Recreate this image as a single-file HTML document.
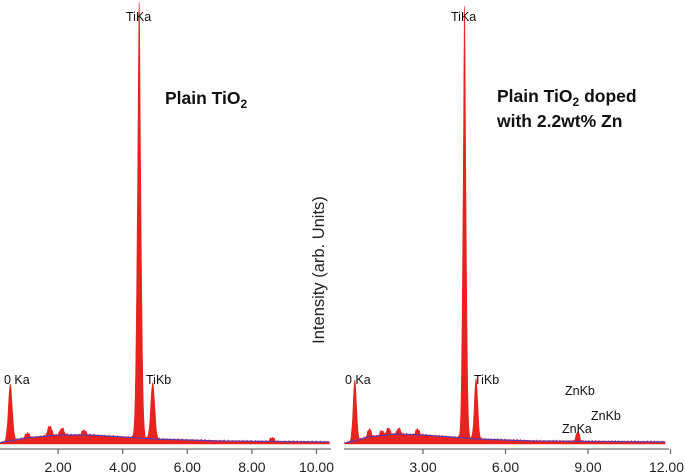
<!DOCTYPE html>
<html><head><meta charset="utf-8"><style>
html,body{margin:0;padding:0;background:#fff;width:685px;height:476px;overflow:hidden}
svg{display:block;font-family:"Liberation Sans",sans-serif}
.ttl{font-weight:bold;font-size:17.5px;fill:#111}
.lbl{font-size:12.5px;fill:#111}
.tk{font-size:14px;fill:#222;text-anchor:middle}
</style></head><body>
<svg id="chart" width="685" height="476">
  <g id="left"></g>
  <g id="right"></g>
  <text class="ttl" x="165" y="104">Plain TiO<tspan font-size="12" dy="4">2</tspan></text>
  <text class="ttl" x="497" y="102">Plain TiO<tspan font-size="12" dy="4">2</tspan><tspan dy="-4"> doped</tspan></text>
  <text class="ttl" x="497" y="127">with 2.2wt% Zn</text>
  <text x="324" y="270" transform="rotate(-90 324 270)" text-anchor="middle" font-size="16.5" fill="#222">Intensity (arb. Units)</text>
  <text class="lbl" x="126" y="21">TiKa</text>
  <text class="lbl" x="4" y="384">0 Ka</text>
  <text class="lbl" x="146" y="384">TiKb</text>
  <text class="lbl" x="451" y="21">TiKa</text>
  <text class="lbl" x="345" y="384">0 Ka</text>
  <text class="lbl" x="474" y="384">TiKb</text>
  <text class="lbl" x="565" y="395">ZnKb</text>
  <text class="lbl" x="591" y="420">ZnKb</text>
  <text class="lbl" x="562" y="433">ZnKa</text>
</svg>
<script>
// Left spectrum data (keV, relative intensity)
const leftPeakE = [0.52, 1.05, 1.74, 2.12, 2.8, 4.51, 4.93, 8.63];
const leftPeakH = [56, 5, 10, 7, 5, 436, 56, 4];
const leftBgE = [0, 0.5, 1.0, 2.0, 3.0, 4.0, 5.0, 7.0, 10.5];
const leftBgH = [0, 3, 6, 9, 9, 7, 5, 3, 2];
const leftTicks = [2, 4, 6, 8, 10];
const leftTickLabels = ["2.00", "4.00", "6.00", "8.00", "10.00"];
// Right spectrum data
const rightPeakE = [0.52, 1.05, 1.5, 1.74, 2.12, 2.8, 4.51, 4.93, 8.63];
const rightPeakH = [60, 8, 5, 7, 6, 6, 432, 60, 10];
const rightBgE = [0, 0.5, 1.0, 2.0, 3.0, 4.0, 5.0, 7.0, 12.0];
const rightBgH = [0, 3, 7, 10, 9, 7, 5, 3, 2];
const rightTicks = [3, 6, 9, 12];
const rightTickLabels = ["3.00", "6.00", "9.00", "12.00"];

const NS = "http://www.w3.org/2000/svg";
function mk(tag, attrs, parent){const e=document.createElementNS(NS,tag);for(const k in attrs)e.setAttribute(k,attrs[k]);parent.appendChild(e);return e;}
function interp(xs, ys, x){if(x<=xs[0])return ys[0];for(let i=1;i<xs.length;i++){if(x<=xs[i]){const t=(x-xs[i-1])/(xs[i]-xs[i-1]);return ys[i-1]+t*(ys[i]-ys[i-1]);}}return ys[ys.length-1];}

function panel(g, cfg){
  const xs = e => cfg.x0 + e*cfg.kx;
  const ys = v => cfg.base - v;
  let bg = "";
  let d = "M"+xs(cfg.e0)+","+ys(0);
  for(let e=cfg.e0; e<=cfg.e1; e+=0.01){
    const b = interp(cfg.bgE, cfg.bgH, e);
    let p = 0;
    for(let i=0;i<cfg.pE.length;i++){
      const z=(e-cfg.pE[i])/0.06;
      if(cfg.pH[i]>100){
        const z2=(e-cfg.pE[i])/0.02;
        p += cfg.pH[i]*0.8*Math.exp(-0.5*z*z) + cfg.pH[i]*0.2*Math.exp(-0.5*z2*z2);
      } else p += cfg.pH[i]*Math.exp(-0.5*z*z);
    }
    const n = (Math.sin(e*97)+Math.sin(e*53))*0.6;
    d += " L"+xs(e).toFixed(2)+","+ys(b+p+n).toFixed(2);
    bg += (bg?" L":"M")+xs(e).toFixed(2)+","+ys(b).toFixed(2);
  }
  d += " L"+xs(cfg.e1)+","+ys(0)+" Z";
  const area = mk("path",{d:d,fill:"#e8231f",stroke:"#e8231f","stroke-width":"0.6"},g);
  
  
  const bl = mk("path",{d:bg,fill:"none",stroke:"#5a3ab0","stroke-width":"1.2"},g);
  
  
  const ax = mk("line",{x1:cfg.ax1,x2:cfg.ax2,y1:cfg.axy,y2:cfg.axy,stroke:"#888","stroke-width":"1.6"},g);
  
  
  cfg.ticks.forEach((t,i)=>{
    const tl = mk("line",{x1:xs(t),x2:xs(t),y1:cfg.axy,y2:cfg.axy+5,stroke:"#666","stroke-width":"1.2"},g);
    
    
    const tx0 = xs(t);
    const last = i===cfg.ticks.length-1 && tx0>650;
    const tx = mk("text",{x:last?684:tx0,y:cfg.axy+23,"class":"tk"},g);
    if(last) tx.style.textAnchor = "end";
    tx.textContent = cfg.labels[i];
    
    
  });
}
panel(document.getElementById("left"),{x0:-6.5,kx:32.3,base:444,e0:0.2,e1:10.4,pE:leftPeakE,pH:leftPeakH,bgE:leftBgE,bgH:leftBgH,ticks:leftTicks,labels:leftTickLabels,ax1:0,ax2:331,axy:449});
panel(document.getElementById("right"),{x0:340.5,kx:27.5,base:444,e0:0.15,e1:11.8,pE:rightPeakE,pH:rightPeakH,bgE:rightBgE,bgH:rightBgH,ticks:rightTicks,labels:rightTickLabels,ax1:344,ax2:669,axy:449});
</script>
</body></html>
